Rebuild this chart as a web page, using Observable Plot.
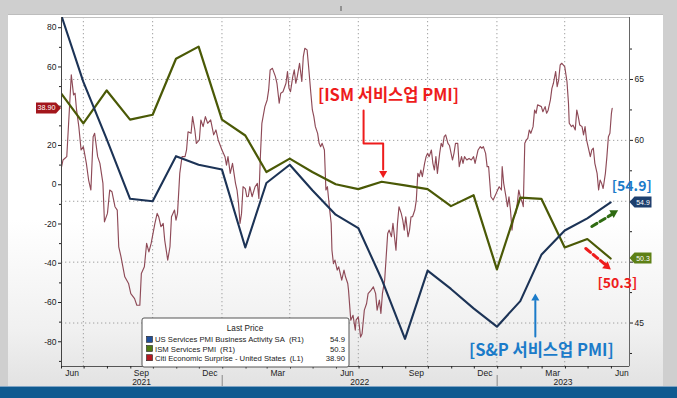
<!DOCTYPE html>
<html><head><meta charset="utf-8">
<script src="https://cdn.jsdelivr.net/npm/d3@7"></script>
<script src="https://cdn.jsdelivr.net/npm/@observablehq/plot@0.6"></script>
<style>
html,body{margin:0;padding:0;background:#cfcfcf;}
#chart{position:relative;width:677px;height:398px;overflow:hidden;background:#cfcfcf;}
#panel{position:absolute;left:8px;top:14px;width:655px;height:372px;
 background:linear-gradient(to bottom,#ffffff 0%,#ffffff 55%,#f0f0f0 85%,#e2e2e2 100%);border-top:1px solid #bdbdbd;}
#bar{position:absolute;left:0;top:386px;width:677px;height:12px;background:#0f5a90;border-top:1px solid #7fa3c4;}
#chart svg{position:absolute;left:0;top:0;}
</style></head><body><div id="chart"><div id="panel"></div><div id="bar"></div></div>
<script>
// ---------- data ----------
const pmiMonths = ["2021-05","2021-06","2021-07","2021-08","2021-09","2021-10","2021-11","2021-12",
  "2022-01","2022-02","2022-03","2022-04","2022-05","2022-06","2022-07","2022-08","2022-09","2022-10","2022-11","2022-12",
  "2023-01","2023-02","2023-03","2023-04","2023-05"];
const spValues  = [70.4,64.8,60.1,55.2,55.0,58.7,58.0,57.6,51.2,56.5,58.0,55.9,53.9,52.8,48.6,43.7,49.3,47.8,46.2,44.7,46.8,50.6,52.6,53.6,54.9];
const ismValues = [63.9,61.4,64.1,61.7,62.1,66.7,67.7,61.7,60.4,57.4,58.5,57.4,56.4,56.0,56.6,56.3,56.0,54.6,55.5,49.4,55.3,55.2,51.2,51.9,50.3];

const citiDates = ["2021-06-01","2021-06-03","2021-06-08","2021-06-14","2021-06-17","2021-06-19","2021-06-21","2021-06-24","2021-06-27","2021-06-30",
"2021-07-04","2021-07-07","2021-07-10","2021-07-13","2021-07-15","2021-07-19","2021-07-22","2021-07-26","2021-07-28","2021-08-01",
"2021-08-04","2021-08-07","2021-08-11","2021-08-14","2021-08-16","2021-08-19","2021-08-24","2021-08-29","2021-09-01","2021-09-06",
"2021-09-09","2021-09-13","2021-09-15","2021-09-19","2021-09-22","2021-09-25","2021-09-28","2021-10-03","2021-10-06","2021-10-08",
"2021-10-11","2021-10-14","2021-10-16","2021-10-20","2021-10-23","2021-10-25","2021-10-29","2021-10-31","2021-11-02","2021-11-05",
"2021-11-08","2021-11-12","2021-11-14","2021-11-16","2021-11-20","2021-11-22","2021-11-25","2021-11-27","2021-12-01","2021-12-03",
"2021-12-06","2021-12-09","2021-12-12","2021-12-16","2021-12-20","2021-12-23","2021-12-26","2021-12-31","2022-01-04","2022-01-06",
"2022-01-08","2022-01-11","2022-01-14","2022-01-18","2022-01-20","2022-01-22","2022-01-24","2022-01-26","2022-01-28","2022-01-31",
"2022-02-02","2022-02-04","2022-02-06","2022-02-09","2022-02-13","2022-02-16","2022-02-18","2022-02-20","2022-02-22","2022-02-26",
"2022-03-01","2022-03-03","2022-03-05","2022-03-08","2022-03-12","2022-03-14","2022-03-17","2022-03-19","2022-03-22","2022-03-26",
"2022-03-28","2022-03-30","2022-04-01","2022-04-04","2022-04-06","2022-04-08","2022-04-10","2022-04-13","2022-04-16","2022-04-18",
"2022-04-20","2022-04-23","2022-04-25","2022-04-28","2022-04-30","2022-05-02","2022-05-04","2022-05-07","2022-05-09","2022-05-11",
"2022-05-13","2022-05-16","2022-05-18","2022-05-20","2022-05-23","2022-05-25","2022-05-26","2022-05-28","2022-05-30","2022-06-02",
"2022-06-04","2022-06-06","2022-06-08","2022-06-11","2022-06-13","2022-06-16","2022-06-17","2022-06-19","2022-06-20","2022-06-23",
"2022-06-26","2022-06-27","2022-06-30","2022-07-03","2022-07-05","2022-07-08","2022-07-11","2022-07-13","2022-07-17","2022-07-20",
"2022-07-23","2022-07-25","2022-07-28","2022-07-30","2022-08-01","2022-08-04","2022-08-06","2022-08-08","2022-08-10","2022-08-13",
"2022-08-15","2022-08-17","2022-08-19","2022-08-21","2022-08-23","2022-08-26","2022-08-28","2022-08-30","2022-09-01","2022-09-04",
"2022-09-06","2022-09-08","2022-09-10","2022-09-13","2022-09-15","2022-09-17","2022-09-19","2022-09-21","2022-09-23","2022-09-26",
"2022-09-28","2022-09-30","2022-10-02","2022-10-05","2022-10-07","2022-10-09","2022-10-11","2022-10-13","2022-10-16","2022-10-18",
"2022-10-20","2022-10-22","2022-10-24","2022-10-27","2022-10-29","2022-11-02","2022-11-04","2022-11-06","2022-11-09","2022-11-11",
"2022-11-14","2022-11-16","2022-11-18","2022-11-21","2022-11-24","2022-11-27","2022-11-30","2022-12-02","2022-12-06","2022-12-09",
"2022-12-11","2022-12-13","2022-12-16","2022-12-18","2022-12-20","2022-12-23","2022-12-26","2022-12-28","2022-12-30","2023-01-01",
"2023-01-03","2023-01-06","2023-01-07","2023-01-09","2023-01-12","2023-01-14","2023-01-16","2023-01-18","2023-01-20","2023-01-22",
"2023-01-25","2023-01-27","2023-01-29","2023-01-31","2023-02-03","2023-02-04","2023-02-06","2023-02-08","2023-02-10","2023-02-12",
"2023-02-14","2023-02-17","2023-02-19","2023-02-21","2023-02-23","2023-02-28","2023-03-02","2023-03-05","2023-03-07","2023-03-09",
"2023-03-12","2023-03-14","2023-03-16","2023-03-19","2023-03-21","2023-03-23","2023-03-25","2023-03-27","2023-03-29","2023-03-31",
"2023-04-03","2023-04-05","2023-04-06","2023-04-09","2023-04-11","2023-04-14","2023-04-16","2023-04-18","2023-04-20","2023-04-23",
"2023-04-25","2023-04-27","2023-04-29","2023-05-01","2023-05-04","2023-05-06","2023-05-08","2023-05-10","2023-05-13","2023-05-15",
"2023-05-17","2023-05-19","2023-05-21","2023-05-24","2023-05-26","2023-05-28","2023-05-30","2023-06-01","2023-06-02"];
const citiValues = [9,12.6,14.3,56,45.8,46.6,38.1,29.6,17.7,19.4,
10.9,2.4,-2.7,24.5,26.2,14.3,10.9,0.7,-18.9,-14.6,
-2.7,-3.6,-11.2,-12.9,-31.6,-36.7,-46.9,-50.3,-55.5,-58,
-61.4,-61.4,-45.2,-41.8,-29.9,-34.2,-29.9,-19.7,-14.6,-16.3,
-21.4,-19.7,-28.2,-38.4,-31.6,-16.3,-12.9,-18,-14.6,5.8,
14.3,14.3,17.7,27,26.2,34.7,27.9,21.1,22.8,33,
29.6,34.7,31.3,33,25.4,27.9,22.8,17.7,14.3,10,
14.3,5.8,10.9,0.7,-2.7,-9.5,-19.7,-14.6,-1,-2,
-6.1,-6,-1,-6.1,-1,0.7,-7,14.3,31.3,39.8,
43.2,48.3,58.5,59.3,55.1,51.7,41.5,46.6,47.4,51.7,
57.7,49.1,47.4,55.1,58.5,51.7,55.1,61.9,52.6,65.3,
69.5,68.7,60.2,46.6,38.1,34.7,29.6,26.2,21.1,19.4,
21.1,17.7,-2.7,-1,-12.9,-19.7,-33.3,-40.2,-38.4,-43.5,
-41.8,-45.2,-48.6,-43.5,-46.9,-50.3,-53.7,-63.9,-69,-66.5,
-74.1,-69,-67.3,-77.6,-75.9,-63.9,-60.5,-55.5,-53.7,-52,
-55.5,-63.9,-58.8,-65.6,-55.5,-48.6,-36.7,-24.8,-23.1,-26.5,
-19.7,-26.5,-33.3,-19.7,-11.2,-14.6,-18,-23.1,-16.3,-26.5,
-23.1,-16.3,-16.3,-12.9,-7.8,5.8,4.1,7.5,4.1,10.9,
14.3,16,14.3,17.7,10.9,7.5,14.3,5.8,16,21.1,
19.4,24.5,25.4,21.1,20,12.6,16,21.1,21.1,9.2,
14.3,10.9,14.3,12.6,13.4,12.6,14.3,10.9,17.7,19.4,
18.6,19.4,16,9.2,9.2,-6.1,-7.8,-6.1,-4.4,-2.7,
-1,-2.7,9.2,0.7,-6.1,-11.2,-6.1,-12.9,-23.1,-16.3,
-14.6,-9.5,-2.7,-6.1,-9.5,-11.2,21.1,22.8,23.6,27.9,
26.2,29.6,38.1,36.4,40.7,39.8,37.2,39.8,36.4,38,
43.2,49.1,51.7,57.7,50,53.4,61.1,61.9,61.1,60.2,
52.6,41.5,31.3,29.6,30.4,27.9,38.1,34.7,30.4,29.6,
25.4,29.6,22.8,19.4,14.3,17.7,18.6,10.9,5.8,-2.7,
2.4,0.7,-1.9,5.8,14.3,24.5,26.2,36.4,38.9];

const leftTicks  = [-80,-60,-40,-20,0,20,40,60,80];
const leftHidden = [40];            // label covered by the 38.90 tag in the reference
const rightTicks = [45,50,55,60,65];
const rightHidden = [50,55];        // labels covered by the 54.9 / 50.3 tags
const labelMonths = ["2021-06","2021-09","2021-12","2022-03","2022-06","2022-09","2022-12","2023-03","2023-06"];
const yearLabels = ["2021","2022","2023"];
const seriesNames = ["US Services PMI Business Activity SA","ISM Services PMI","Citi Economic Surprise - United States"];
const seriesAxis = ["(R1)","(R1)","(L1)"];
const lastValues = ["54.9","50.3","38.90"];
const annotationTexts = ["[ISM 서비스업 PMI]","[S&P 서비스업 PMI]","[54.9]","[50.3]"];

// ---------- helpers ----------
const parseDay = d3.utcParse("%Y-%m-%d");
const parseMonth = d3.utcParse("%Y-%m");
const monthEnd = m => d3.utcDay.offset(d3.utcMonth.offset(parseMonth(m), 1), -1);
const midMonth = m => d3.utcDay.offset(parseMonth(m), 14);

const xDomain = [parseDay("2021-06-01"), parseDay("2023-06-25")];
const rightDomain = [41.43, 70.09];
const leftDomain = [-92.6, 85.2];
const L2R = d3.scaleLinear().domain(leftDomain).range(rightDomain);

const sp  = pmiMonths.map((m,i) => ({date: monthEnd(m), v: spValues[i]}));
const ism = pmiMonths.map((m,i) => ({date: monthEnd(m), v: ismValues[i]}));
const citi = citiDates.map((d,i) => ({date: parseDay(d), v: L2R(citiValues[i])}));
const quarterEnds = labelMonths.slice(0,-1).map(monthEnd);
const labelDates = labelMonths.map(midMonth);
const monthStarts = d3.utcMonth.range(xDomain[0], xDomain[1]);
const minorLeft = d3.range(-90, 90, 10).filter(v => v % 20 !== 0);
const minorRight = d3.range(42.5, 70, 2.5).filter(v => v % 5 !== 0);

const RED = "#ee1c1c", BLUE = "#1b7bc9", DGREEN = "#2f6b12";
const KFONT = "'Noto Sans CJK KR', 'Noto Sans', sans-serif";

// annotation geometry (in data units)
const ismArrow = [["2022-07-07",62.45],["2022-07-07",59.74],["2022-08-02",59.74],["2022-08-02",57.6]];
const spArrow = [["2023-02-20",43.9],["2023-02-20",46.8]];
const upArrow = [["2023-05-06",52.93],["2023-06-01",53.9]];
const downArrow = [["2023-04-28",51.12],["2023-05-23",49.85]];
const toPts = a => a.map(([d,v]) => ({date: parseDay(d), v}));
const heads = [
  {date: parseDay("2022-08-02"), v: 57.3, rot: 180, c: RED, r: 3.1},
  {date: parseDay("2023-02-20"), v: 47.05, rot: 0, c: BLUE, r: 3.1},
  {date: parseDay("2023-06-04"), v: 54.05, rot: 60, c: DGREEN, r: 3.7},
  {date: parseDay("2023-05-26"), v: 49.65, rot: 129, c: RED, r: 3.7}
];
const notes = [
  {date: parseDay("2022-08-09"), v: 63.7, c: RED, s: 16.5},
  {date: parseDay("2023-02-28"), v: 42.75, c: BLUE, s: 16.5},
  {date: parseDay("2023-06-28"), v: 56.25, c: BLUE, s: 14},
  {date: parseDay("2023-06-09"), v: 48.25, c: RED, s: 14}
].map((n,i) => ({...n, text: annotationTexts[i]}));

const plot = Plot.plot({
  width: 677, height: 398,
  marginLeft: 61, marginRight: 48, marginTop: 17, marginBottom: 32,
  x: {type: "utc", domain: xDomain},
  y: {domain: rightDomain},
  style: {background: "transparent", fontFamily: "'Liberation Sans', Arial, sans-serif", fontSize: "8.5px", color: "#222", overflow: "visible"},
  marks: [
    Plot.ruleY(rightTicks, {stroke: "#a0a0a0", strokeDasharray: "1.3,2.7"}),
    Plot.ruleX(quarterEnds, {stroke: "#a0a0a0", strokeDasharray: "1.3,2.7"}),
    Plot.frame({stroke: "#c0c0c0"}),
    Plot.line(citi, {x: "date", y: "v", stroke: "#8e4a57", strokeWidth: 1.15, clip: true}),
    Plot.line(ism, {x: "date", y: "v", stroke: "#4a5906", strokeWidth: 2.2, clip: true}),
    Plot.line(sp, {x: "date", y: "v", stroke: "#1c3356", strokeWidth: 2.1, clip: true}),
    Plot.ruleX([xDomain[0]], {stroke: "#444"}),
    Plot.ruleX([xDomain[1]], {stroke: "#666"}),
    Plot.ruleY([rightDomain[0]], {stroke: "#555"}),
    Plot.axisY({anchor: "left", ticks: leftTicks.map(L2R),
      tickFormat: v => { const t = Math.round(L2R.invert(v)); return leftHidden.includes(t) ? "" : String(t); },
      tickSize: 3, tickPadding: 2, label: null}),
    Plot.axisY({anchor: "left", ticks: minorLeft.map(L2R), tickFormat: () => "", tickSize: 2, label: null}),
    Plot.axisY({anchor: "right", ticks: rightTicks, tickFormat: v => rightHidden.includes(v) ? "" : String(v),
      tickSize: 3, tickPadding: 2, label: null}),
    Plot.axisY({anchor: "right", ticks: minorRight, tickFormat: () => "", tickSize: 2, label: null}),
    Plot.axisX({ticks: labelDates, tickFormat: d3.utcFormat("%b"), tickSize: 0, tickPadding: 3.5, label: null}),
    Plot.axisX({ticks: monthStarts, tickFormat: () => "", tickSize: 2.5, label: null}),
    // annotations
    Plot.line(toPts(ismArrow), {x: "date", y: "v", stroke: RED, strokeWidth: 2}),
    Plot.line(toPts(spArrow), {x: "date", y: "v", stroke: BLUE, strokeWidth: 2}),
    Plot.line(toPts(upArrow), {x: "date", y: "v", stroke: DGREEN, strokeWidth: 3, strokeDasharray: "6,3.5"}),
    Plot.line(toPts(downArrow), {x: "date", y: "v", stroke: RED, strokeWidth: 3, strokeDasharray: "6,3.5"}),
    Plot.dot(heads, {x: "date", y: "v", symbol: "triangle", r: "r", fill: "c", stroke: "none", rotate: "rot"}),
    Plot.text(notes, {x: "date", y: "v", text: "text", fill: "c", fontSize: "s", fontWeight: "bold", fontFamily: KFONT})
  ]
});

const svg = d3.select(plot);
const X = plot.scale("x"), Y = plot.scale("y");
const FONT = "'Liberation Sans', Arial, sans-serif";

// year labels centred in the visible span of each year
yearLabels.forEach(y => {
  const a = d3.max([xDomain[0], parseDay(y + "-01-01")]);
  const b = d3.min([xDomain[1], parseDay((+y + 1) + "-01-01")]);
  const cx = (X.apply(a) + X.apply(b)) / 2;
  svg.append("text").attr("x", cx).attr("y", 384.5).attr("text-anchor", "middle")
    .attr("font-family", FONT).attr("font-size", 8.5).attr("fill", "#222").text(y);
  if (+y > 2021) svg.append("line").attr("x1", X.apply(parseDay(y + "-01-01"))).attr("x2", X.apply(parseDay(y + "-01-01")))
    .attr("y1", 375).attr("y2", 386).attr("stroke", "#888");
});

// value tags
function rightTag(v, label, fill) {
  const y = Y.apply(v), x0 = 629.5;
  svg.append("path").attr("d", `M${x0},${y} L${x0+5},${y-5.5} H${x0+22} V${y+5.5} H${x0+5} Z`).attr("fill", fill);
  svg.append("text").attr("x", x0 + 13.5).attr("y", y + 2.6).attr("text-anchor", "middle")
    .attr("font-family", FONT).attr("font-size", 7).attr("fill", "#fff").text(label);
}
rightTag(spValues[spValues.length-1], lastValues[0], "#1d3f6e");
rightTag(ismValues[ismValues.length-1], lastValues[1], "#5d8016");
{
  const y = Y.apply(L2R(citiValues[citiValues.length-1]));
  svg.append("path").attr("d", `M36,${y-5.5} H56 L61,${y} L56,${y+5.5} H36 Z`).attr("fill", "#a3161c");
  svg.append("text").attr("x", 46.5).attr("y", y + 2.6).attr("text-anchor", "middle")
    .attr("font-family", FONT).attr("font-size", 7.2).attr("fill", "#fff").text(lastValues[2]);
}

// legend
const lg = svg.append("g");
lg.append("rect").attr("x", 142).attr("y", 318).attr("width", 207).attr("height", 49).attr("rx", 2)
  .attr("fill", "#fff").attr("stroke", "#555");
lg.append("text").attr("x", 245).attr("y", 330.5).attr("text-anchor", "middle")
  .attr("font-family", FONT).attr("font-size", 8.2).attr("fill", "#222").text("Last Price");
const swatch = ["#1f4e9a", "#4f7a12", "#b51a22"];
seriesNames.forEach((n, i) => {
  const y = 339.5 + i * 9.2;
  lg.append("rect").attr("x", 146.5).attr("y", y - 3.2).attr("width", 6).attr("height", 6)
    .attr("fill", swatch[i]).attr("stroke", "#222").attr("stroke-width", 0.6);
  const t = lg.append("text").attr("x", 155).attr("y", y + 2.8).attr("text-anchor", "start")
    .attr("font-family", FONT).attr("font-size", 7.7).attr("fill", "#222");
  t.append("tspan").text(n);
  t.append("tspan").attr("dx", 4).text(seriesAxis[i]);
  lg.append("text").attr("x", 345).attr("y", y + 2.8).attr("text-anchor", "end")
    .attr("font-family", FONT).attr("font-size", 7.7).attr("fill", "#222").text(lastValues[i]);
});

// small top marker of the screenshot frame
svg.append("line").attr("x1", 341).attr("x2", 341).attr("y1", 6).attr("y2", 11).attr("stroke", "#555");

document.getElementById("chart").appendChild(plot);
</script>
</body></html>
